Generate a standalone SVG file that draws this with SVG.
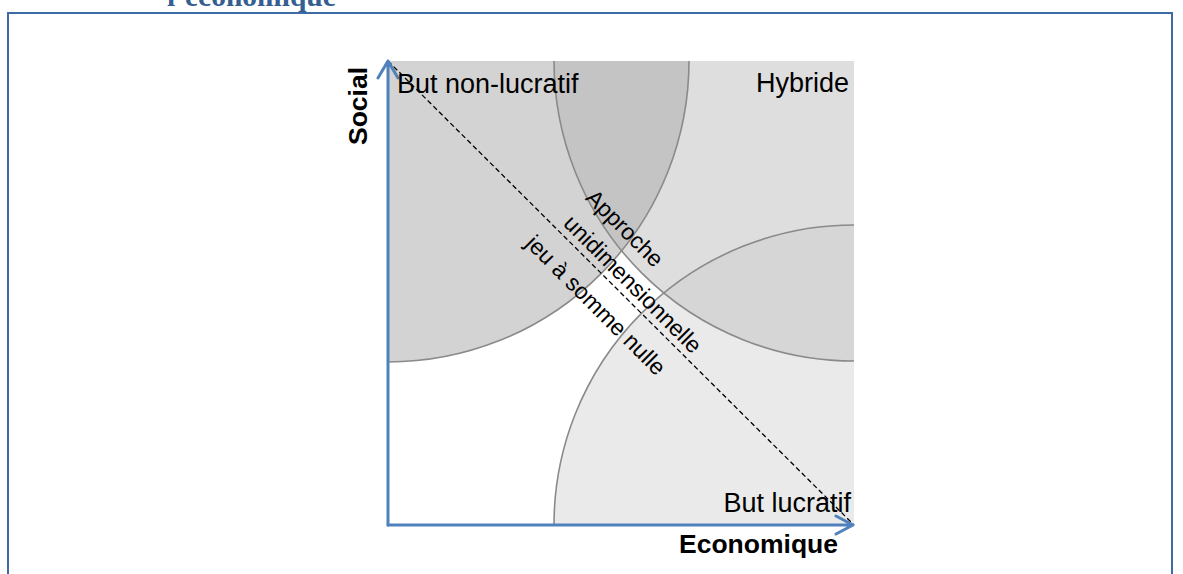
<svg xmlns="http://www.w3.org/2000/svg" width="1183" height="574" viewBox="0 0 1183 574">
<style>
.lbl{font-family:"Liberation Sans",Arial,sans-serif;font-size:27px;fill:#000}
.ax{font-family:"Liberation Sans",Arial,sans-serif;font-size:26.5px;font-weight:bold;fill:#000}
.diag{font-family:"Liberation Sans",Arial,sans-serif;font-size:23px;fill:#000}
.arc{fill:none;stroke:#8a8a8a;stroke-width:1.6}
.axis{fill:none;stroke:#4f81bd;stroke-width:3;stroke-linecap:round;stroke-linejoin:round}
</style>
<defs>
<clipPath id="sq"><rect x="388" y="61" width="466" height="464"/></clipPath>
<clipPath id="trc"><circle cx="854" cy="61" r="300"/></clipPath>
</defs>
<rect width="1183" height="574" fill="#fff"/>
<text x="167" y="6" font-family="'Liberation Serif','Times New Roman',serif" font-weight="bold" font-size="29.5" fill="#365f91">l’économique</text>
<rect x="8" y="13" width="1164" height="600" fill="none" stroke="#3e6aa5" stroke-width="2"/>
<g clip-path="url(#sq)">
<g id="zone-hybride"><circle cx="854" cy="61" r="300" fill="#dedede"/></g>
<g id="zone-lucratif"><circle cx="854" cy="525" r="300" fill="#eaeaea"/>
<circle cx="854" cy="525" r="300" fill="#d6d6d6" clip-path="url(#trc)"/></g>
<g id="zone-nonlucratif"><circle cx="388" cy="61" r="301" fill="#d3d3d3"/>
<circle cx="388" cy="61" r="301" fill="#c4c4c4" clip-path="url(#trc)"/></g>
<circle class="arc" cx="854" cy="61" r="300"/>
<circle class="arc" cx="854" cy="525" r="300"/>
<circle class="arc" cx="388" cy="61" r="301"/>
</g>
<g id="connectors">
<line x1="388" y1="61" x2="854" y2="525" stroke="#000" stroke-width="1.3" stroke-dasharray="5 3"/>
<path class="axis" d="M388 525 V61 M378 78 L388 61 L398 78"/>
<path class="axis" d="M388 525 H853 M836 516 L853 525 L836 534"/>
</g>
<g id="labels">
<text class="lbl" x="397" y="93">But non-lucratif</text>
<text class="lbl" x="849" y="92" text-anchor="end">Hybride</text>
<text class="lbl" x="851" y="512" text-anchor="end">But lucratif</text>
<text class="ax" x="838" y="553" text-anchor="end">Economique</text>
<text class="ax" transform="translate(367 106) rotate(-90)" text-anchor="middle">Social</text>
<text class="diag" transform="translate(625 228) rotate(45)" text-anchor="middle" dy="0.35em">Approche</text>
<text class="diag" transform="translate(633 284) rotate(45)" text-anchor="middle" dy="0.35em">unidimensionnelle</text>
<text class="diag" transform="translate(596 305) rotate(45)" text-anchor="middle" dy="0.35em">jeu à somme nulle</text>
</g>
</svg>
